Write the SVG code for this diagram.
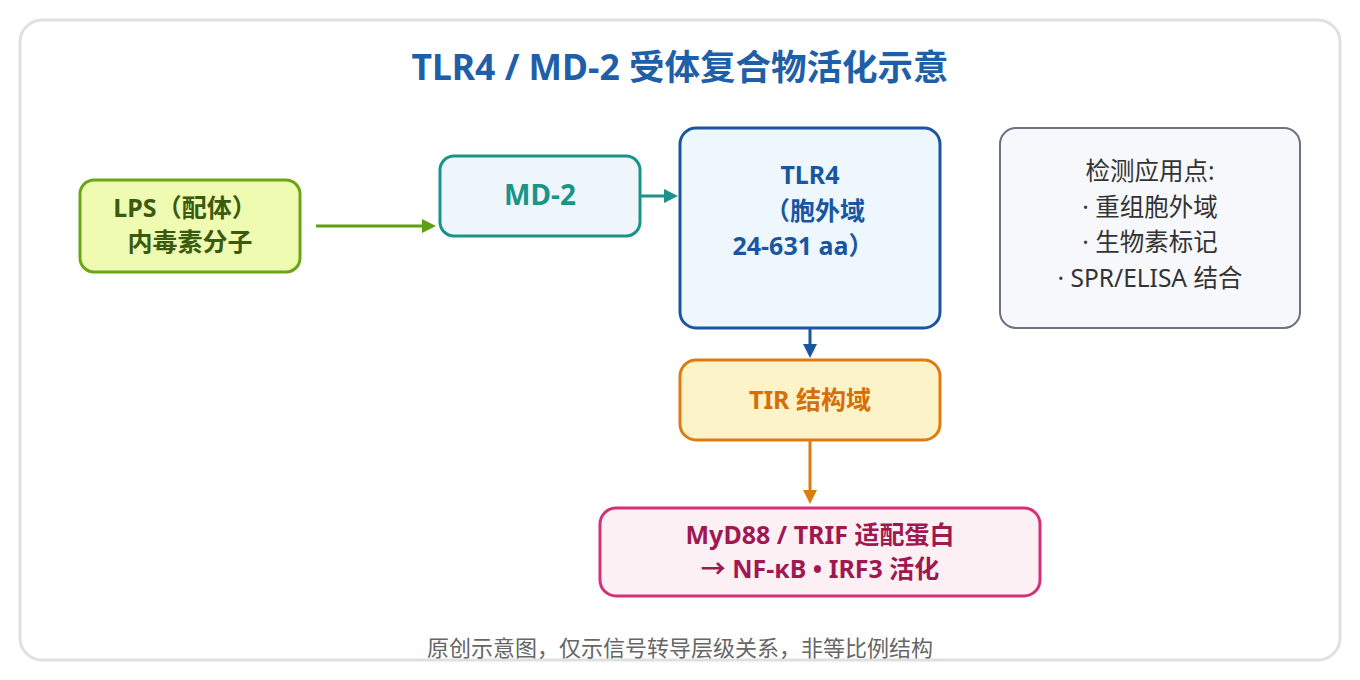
<svg xmlns="http://www.w3.org/2000/svg" width="1360" height="680" viewBox="0 0 1360 680">
<style>
text{font-family:"Noto Sans","Noto Sans CJK SC",sans-serif;text-anchor:middle}
.b{font-weight:bold;font-size:25px}
.box{stroke-width:3}
.n{font-size:24.5px;fill:#333}
</style>
<defs>
<marker id="ag" markerWidth="14" markerHeight="14" refX="10" refY="7" orient="auto" markerUnits="userSpaceOnUse" viewBox="0 0 14 14"><path d="M0,0L14,7L0,14z" fill="#5f9e12"/></marker>
<marker id="at" markerWidth="14" markerHeight="14" refX="10" refY="7" orient="auto" markerUnits="userSpaceOnUse" viewBox="0 0 14 14"><path d="M0,0L14,7L0,14z" fill="#1a9488"/></marker>
<marker id="ab" markerWidth="14" markerHeight="14" refX="10" refY="7" orient="auto" markerUnits="userSpaceOnUse" viewBox="0 0 14 14"><path d="M0,0L14,7L0,14z" fill="#1a56a0"/></marker>
<marker id="ao" markerWidth="14" markerHeight="14" refX="10" refY="7" orient="auto" markerUnits="userSpaceOnUse" viewBox="0 0 14 14"><path d="M0,0L14,7L0,14z" fill="#de7a10"/></marker>
</defs>
<rect x="0" y="0" width="1360" height="680" fill="#fff"/>
<rect x="20" y="20" width="1320" height="640" rx="22" fill="#fff" stroke="#e0e0e0" stroke-width="3"/>
<text x="680" y="80" style="font-weight:bold;font-size:35.5px" fill="#1f5fa8">TLR4 / MD-2 受体复合物活化示意</text>
<g id="connectors" fill="none" stroke-width="3">
<line x1="316" y1="226" x2="432" y2="226" stroke="#5f9e12" marker-end="url(#ag)"/>
<line x1="640" y1="196" x2="674" y2="196" stroke="#1a9488" marker-end="url(#at)"/>
<line x1="810" y1="328" x2="810" y2="354" stroke="#1a56a0" marker-end="url(#ab)"/>
<line x1="810" y1="440" x2="810" y2="500" stroke="#de7a10" marker-end="url(#ao)"/>
</g>
<g id="lps"><rect class="box" x="80" y="180" width="220" height="92" rx="14" fill="#eefbb0" stroke="#6aa516"/>
<text class="b" x="185" y="217" fill="#3a5a10">LPS（配体）</text><text class="b" x="190" y="251" fill="#3a5a10">内毒素分子</text></g>
<g id="md2"><rect class="box" x="440" y="156" width="200" height="80" rx="14" fill="#eef6fc" stroke="#1a9488"/>
<text x="540" y="205" style="font-weight:bold;font-size:28px" fill="#1a9488">MD-2</text></g>
<g id="tlr4"><rect class="box" x="680" y="128" width="260" height="200" rx="16" fill="#eef6fe" stroke="#1a56a0"/>
<text class="b" x="810" y="184" fill="#1a56a0">TLR4</text><text class="b" x="815" y="220" fill="#1a56a0">（胞外域</text><text class="b" x="803" y="255" fill="#1a56a0">24-631 aa）</text></g>
<g id="tir"><rect class="box" x="680" y="360" width="260" height="80" rx="16" fill="#fdf3c8" stroke="#de7a10"/>
<text class="b" x="810" y="409" fill="#d46f0a">TIR 结构域</text></g>
<g id="myd"><rect class="box" x="600" y="508" width="440" height="88" rx="16" fill="#fcf0f5" stroke="#d62f7a"/>
<text class="b" x="820" y="544" fill="#a01850">MyD88 / TRIF 适配蛋白</text><text class="b" x="820" y="578" fill="#a01850">→ NF-κB • IRF3 活化</text></g>
<g id="notes"><rect x="1000" y="128" width="300" height="200" rx="16" fill="#f6f8fb" stroke="#6b7280" stroke-width="2"/>
<text class="n" x="1150" y="180">检测应用点:</text><text class="n" x="1150" y="216">· 重组胞外域</text><text class="n" x="1150" y="251">· 生物素标记</text><text class="n" x="1150" y="287">· SPR/ELISA 结合</text></g>
<text x="680" y="656" style="font-size:22px" fill="#666">原创示意图，仅示信号转导层级关系，非等比例结构</text>
</svg>
